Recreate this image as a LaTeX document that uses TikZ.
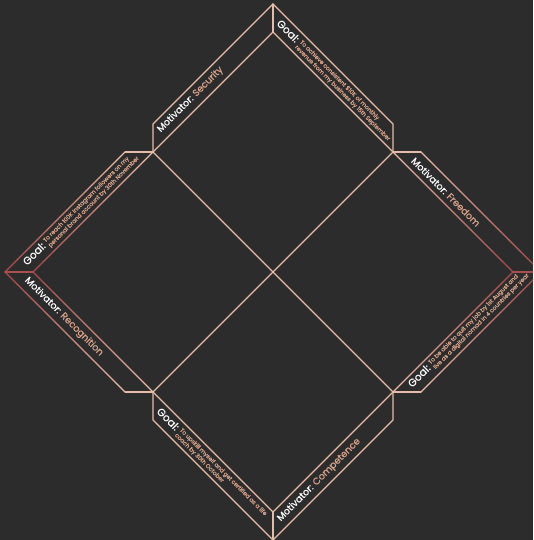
\documentclass[tikz,border=0pt]{standalone}
\usepackage{fontspec}
\setmainfont{Poppins}
\newfontfamily\heavyfont{Poppins}[FakeBold=0.5]
\usetikzlibrary{calc}

\definecolor{board}{HTML}{2D2C2C}
\definecolor{peach}{HTML}{E6BCA9}
\definecolor{rust}{HTML}{A9504E}
\definecolor{label}{HTML}{D9A48C}

% two-line goal text in small peach letters
\newcommand{\goaltext}[2]{%
    {\fontsize{5.8}{7}\selectfont\color{label}%
    \begin{tabular}[c]{@{}l@{}}#1\\#2\end{tabular}}}

% edge that turns from peach (first point) to rust (second point)
\newcommand{\fadeedge}[2]{%
    \foreach \k in {0,...,11}{
        \pgfmathtruncatemacro{\mix}{100-100*\k/11}
        \pgfmathsetmacro{\ta}{\k/12}
        \pgfmathsetmacro{\tb}{(\k+1)/12}
        \draw[edge, draw=peach!\mix!rust]
            ($(#1)!\ta!(#2)$) -- ($(#1)!\tb!(#2)$);
    }}

\begin{document}
\begin{tikzpicture}[
    x=1pt,
    y=-1pt,
    edge/.style={
        line width=1.3pt,
        line cap=round
    },
    motive/.style={
        text=white,
        font=\heavyfont\fontsize{9.5}{11}\selectfont,
        inner sep=0pt,
        anchor=west
    },
    goal/.style={
        text=white,
        font=\heavyfont\fontsize{10.5}{12}\selectfont,
        inner sep=0pt,
        anchor=west
    }
]

% Board
\useasboundingbox (0,0) rectangle (533,540);
\clip (0,0) rectangle (533,540);
\fill[board] (0,0) rectangle (533,540);

% Inner diamond: corners and edge midpoints
\coordinate (C) at (273,272);
\coordinate (T) at (273,32);
\coordinate (R) at (513,272);
\coordinate (B) at (273,512);
\coordinate (L) at (33,272);
\coordinate (mTL) at (153,152);
\coordinate (mTR) at (393,152);
\coordinate (mBR) at (393,392);
\coordinate (mBL) at (153,392);

% Outer points of the flaps
\coordinate (Tout) at (273,4);
\coordinate (Bout) at (273,540);
\coordinate (Lout) at (5,272);
\coordinate (Rout) at (541,272);
\coordinate (mTLup) at (153,124);
\coordinate (mTLleft) at (125,152);
\coordinate (mTRup) at (393,124);
\coordinate (mTRright) at (421,152);
\coordinate (mBRright) at (421,392);
\coordinate (mBRdown) at (393,420);
\coordinate (mBLdown) at (153,420);
\coordinate (mBLleft) at (125,392);

% Grid of four squares
\draw[edge, peach] (mTL) -- (T) -- (mTR);
\draw[edge, peach] (mBL) -- (B) -- (mBR);
\draw[edge, peach] (mTL) -- (mBR);
\draw[edge, peach] (mTR) -- (mBL);

% Top and bottom flaps
\draw[edge, peach] (mTL) -- (mTLup) -- (Tout) -- (mTRup) -- (mTR);
\draw[edge, peach] (T) -- (Tout);
\draw[edge, peach] (mBL) -- (mBLdown) -- (Bout) -- (mBRdown) -- (mBR);
\draw[edge, peach] (B) -- (Bout);

% Side flaps, darker towards the side points
\draw[edge, peach] (mTL) -- (mTLleft);
\draw[edge, peach] (mBL) -- (mBLleft);
\draw[edge, peach] (mTR) -- (mTRright);
\draw[edge, peach] (mBR) -- (mBRright);
\fadeedge{mTL}{L}
\fadeedge{mBL}{L}
\fadeedge{mTLleft}{Lout}
\fadeedge{mBLleft}{Lout}
\fadeedge{mTR}{R}
\fadeedge{mBR}{R}
\fadeedge{mTRright}{Rout}
\fadeedge{mBRright}{Rout}
\draw[edge, rust] (L) -- (Lout);
\draw[edge, rust] (R) -- (Rout);

% Motivators
\node[motive, rotate=45] (security) at (159,131)
    {Motivator: \textcolor{label}{Security}};
\node[motive, rotate=-45] (freedom) at (413,159)
    {Motivator: \textcolor{label}{Freedom}};
\node[motive, rotate=45] (competence) at (279,520)
    {Motivator: \textcolor{label}{Competence}};
\node[motive, rotate=-45] (recognition) at (26,279)
    {Motivator: \textcolor{label}{Recognition}};

% Goals
\node[goal, rotate=-45] (goalincome) at (277,23)
    {Goal:~\goaltext{To achieve consistent \$10K of monthly}
    {revenue from my business by 15th September}};
\node[goal, rotate=45] (goalnomad) at (411,387)
    {Goal:~\goaltext{To be able to quit my job by 1st August and}
    {live as a digital nomad in 4 countries per year}};
\node[goal, rotate=-45] (goalcoach) at (157,411)
    {Goal:~\goaltext{To upskill myself and get certified as a life}
    {coach by 30th October}};
\node[goal, rotate=45] (goalfollowers) at (26,265)
    {Goal:~\goaltext{To reach 100K Instagram followers on my}
    {personal brand account by 30th November}};
\end{tikzpicture}
\end{document}
